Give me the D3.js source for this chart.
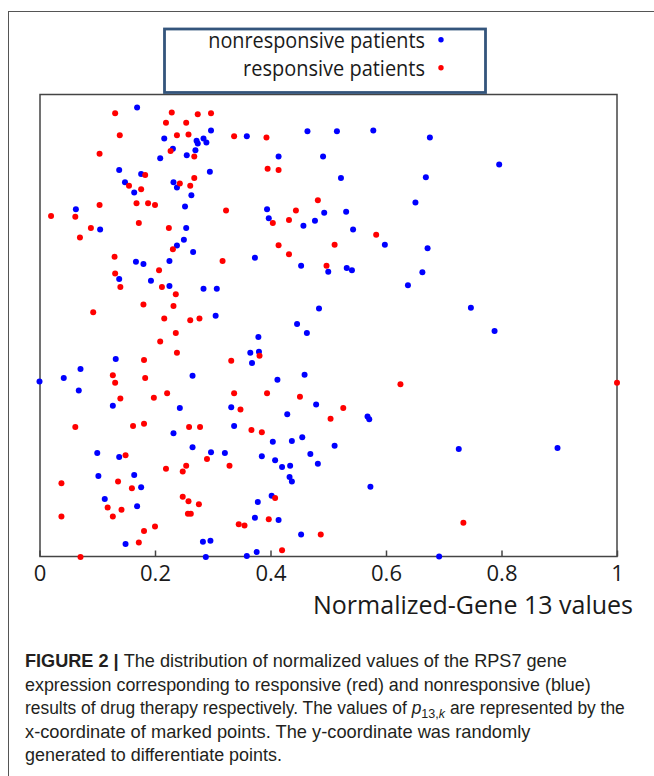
<!DOCTYPE html>
<html>
<head>
<meta charset="utf-8">
<script src="https://cdn.jsdelivr.net/npm/d3@7"></script>
<style>
  html, body { margin: 0; padding: 0; background: #fff; }
  svg { display: block; }
</style>
</head>
<body>
<svg id="chart" width="654" height="776"></svg>
<script>
// ---------- data ----------
const xTicks = [0, 0.2, 0.4, 0.6, 0.8, 1];
const xTickLabels = ["0", "0.2", "0.4", "0.6", "0.8", "1"];
const xTitle = "Normalized-Gene 13 values";
const legendLabels = ["nonresponsive patients", "responsive patients"];

// nonresponsive patients (blue): [normalized value, random y]
const nonresponsive = [
  [0.169,0.999],[0.297,0.948],[0.216,0.930],[0.272,0.925],[0.284,0.930],[0.289,0.921],[0.274,0.919],[0.359,0.935],
  [0.231,0.907],[0.270,0.904],[0.255,0.893],[0.209,0.886],[0.138,0.860],[0.176,0.851],[0.295,0.856],[0.148,0.833],
  [0.232,0.833],[0.238,0.821],[0.164,0.810],[0.263,0.804],[0.252,0.779],[0.063,0.773],[0.105,0.728],[0.254,0.731],
  [0.250,0.705],[0.238,0.692],[0.266,0.678],
  [0.464,0.946],[0.515,0.946],[0.578,0.948],[0.676,0.932],[0.414,0.890],[0.491,0.890],[0.796,0.872],[0.522,0.842],
  [0.669,0.844],[0.651,0.788],[0.394,0.773],[0.397,0.753],[0.457,0.736],[0.477,0.747],[0.493,0.765],[0.531,0.767],
  [0.543,0.728],[0.598,0.694],[0.672,0.686],
  [0.167,0.656],[0.180,0.651],[0.225,0.658],[0.138,0.618],[0.193,0.614],[0.225,0.602],[0.284,0.596],[0.307,0.596],
  [0.305,0.536],[0.132,0.440],[0.071,0.418],[0.042,0.398],[0.000,0.390],[0.068,0.370],[0.265,0.403],[0.365,0.454],
  [0.368,0.431],[0.127,0.336],[0.243,0.331],[0.332,0.333],
  [0.373,0.665],[0.453,0.647],[0.500,0.634],[0.532,0.642],[0.541,0.637],[0.663,0.633],[0.638,0.604],[0.484,0.552],
  [0.747,0.554],[0.446,0.518],[0.463,0.498],[0.788,0.502],[0.379,0.489],[0.380,0.456],[0.459,0.405],[0.412,0.394],
  [0.479,0.339],
  [0.337,0.291],[0.232,0.275],[0.100,0.231],[0.138,0.222],[0.265,0.244],[0.297,0.233],[0.321,0.231],[0.102,0.180],
  [0.164,0.182],[0.176,0.155],[0.113,0.129],[0.169,0.113],[0.149,0.029],[0.283,0.034],[0.296,0.036],[0.288,0.000],
  [0.359,0.002],
  [0.429,0.317],[0.568,0.312],[0.571,0.306],[0.404,0.256],[0.437,0.258],[0.455,0.266],[0.511,0.247],[0.726,0.240],
  [0.897,0.242],[0.385,0.224],[0.408,0.215],[0.420,0.200],[0.434,0.203],[0.469,0.229],[0.482,0.207],[0.433,0.178],
  [0.437,0.168],[0.573,0.156],[0.402,0.136],[0.378,0.122],[0.373,0.087],[0.414,0.082],[0.453,0.050],[0.376,0.011],
  [0.692,0.001]
];

// responsive patients (red): [normalized value, random y]
const responsive = [
  [0.131,0.986],[0.229,0.988],[0.274,0.984],[0.297,0.986],[0.219,0.965],[0.254,0.965],[0.139,0.937],[0.238,0.937],
  [0.258,0.939],[0.337,0.935],[0.104,0.896],[0.227,0.902],[0.268,0.890],[0.183,0.849],[0.268,0.842],[0.155,0.825],
  [0.243,0.830],[0.261,0.825],[0.176,0.817],[0.168,0.786],[0.188,0.786],[0.200,0.782],[0.104,0.782],[0.323,0.770],
  [0.020,0.758],[0.062,0.756],[0.172,0.742],[0.089,0.731],[0.224,0.731],[0.070,0.710],[0.231,0.684],
  [0.393,0.932],[0.395,0.863],[0.414,0.860],[0.482,0.793],[0.444,0.770],[0.432,0.749],[0.404,0.742],[0.414,0.693],
  [0.511,0.694],[0.583,0.716],
  [0.130,0.667],[0.317,0.658],[0.131,0.630],[0.207,0.637],[0.140,0.600],[0.212,0.600],[0.236,0.584],[0.180,0.561],
  [0.232,0.558],[0.093,0.544],[0.216,0.530],[0.261,0.526],[0.277,0.530],[0.236,0.498],[0.209,0.479],[0.238,0.454],
  [0.181,0.438],[0.332,0.436],[0.127,0.404],[0.131,0.387],[0.183,0.398],[0.140,0.352],[0.198,0.354],[0.221,0.364],
  [0.337,0.364],[0.348,0.328],
  [0.432,0.673],[0.497,0.647],[0.381,0.447],[0.394,0.364],[0.451,0.356],[0.526,0.331],[0.625,0.384],[1.000,0.387],
  [0.062,0.289],[0.162,0.291],[0.181,0.296],[0.259,0.289],[0.278,0.289],[0.149,0.226],[0.367,0.282],[0.290,0.218],
  [0.254,0.203],[0.219,0.196],[0.248,0.190],[0.329,0.203],[0.038,0.164],[0.136,0.168],[0.160,0.153],[0.248,0.134],
  [0.258,0.124],[0.276,0.117],[0.118,0.110],[0.142,0.105],[0.127,0.090],[0.038,0.090],[0.257,0.096],[0.262,0.096],
  [0.345,0.073],[0.355,0.070],[0.181,0.058],[0.200,0.068],[0.172,0.032],[0.071,0.000],
  [0.504,0.307],[0.385,0.277],[0.408,0.131],[0.397,0.084],[0.487,0.050],[0.420,0.015],[0.734,0.076]
];

const captionLines = [
  [{t:"FIGURE 2 | ", b:true}, {t:"The distribution of normalized values of the RPS7 gene"}],
  [{t:"expression corresponding to responsive (red) and nonresponsive (blue)"}],
  [{t:"results of drug therapy respectively. The values of "}, {t:"p", i:true}, {t:"13,", sub:true}, {t:"k", sub:true, i:true}, {t:" are represented by the"}],
  [{t:"x-coordinate of marked points. The y-coordinate was randomly"}],
  [{t:"generated to differentiate points."}]
];

// ---------- layout ----------
const svg = d3.select("#chart");
const plot = {left: 40, top: 94.5, right: 617, bottom: 556.5};
const x = d3.scaleLinear().domain([0, 1]).range([39.5, 617]);
const y = d3.scaleLinear().domain([0, 1]).range([557, 107]);
const BLUE = "#0000ff", RED = "#ff0000";

// figure frame (top & left edges)
svg.append("line").attr("x1", 8.5).attr("x2", 654).attr("y1", 11.5).attr("y2", 11.5)
  .attr("stroke", "#555").attr("stroke-width", 1);
svg.append("line").attr("x1", 8.5).attr("x2", 8.5).attr("y1", 11).attr("y2", 776)
  .attr("stroke", "#555").attr("stroke-width", 1);

// plot box
svg.append("rect")
  .attr("x", plot.left).attr("y", plot.top)
  .attr("width", plot.right - plot.left).attr("height", plot.bottom - plot.top)
  .attr("fill", "#fff").attr("stroke", "#444").attr("stroke-width", 1.5);

// x axis
const axis = d3.axisBottom(x).tickValues(xTicks)
  .tickFormat((d, i) => xTickLabels[i])
  .tickSizeInner(-6).tickSizeOuter(0).tickPadding(9);
const gx = svg.append("g").attr("transform", `translate(0,${plot.bottom})`).call(axis);
gx.select(".domain").remove();
gx.selectAll(".tick line").attr("stroke", "#444").attr("stroke-width", 1.5);
gx.selectAll(".tick text")
  .attr("font-family", "'Open Sans', sans-serif").attr("font-size", 22)
  .attr("fill", "#1a1a1a");

// points
svg.append("g").selectAll("circle").data(nonresponsive).join("circle")
  .attr("cx", d => x(d[0])).attr("cy", d => y(d[1])).attr("r", 3).attr("fill", BLUE);
svg.append("g").selectAll("circle").data(responsive).join("circle")
  .attr("cx", d => x(d[0])).attr("cy", d => y(d[1])).attr("r", 3).attr("fill", RED);

// helper: text fitted horizontally
function fitText(g, target) {
  const t = g.select("text");
  const w = t.node().getComputedTextLength();
  const tr = g.attr("transform");
  g.attr("transform", tr + ` scale(${target / w},1)`);
}

// axis title
{
  const g = svg.append("g").attr("transform", "translate(633,613.5)");
  g.append("text").attr("text-anchor", "end")
    .attr("font-family", "'Open Sans', sans-serif").attr("font-size", 25)
    .attr("fill", "#1a1a1a").text(xTitle);
  fitText(g, 320);
}

// legend
svg.append("rect").attr("x", 164.5).attr("y", 29).attr("width", 321).attr("height", 63.5)
  .attr("fill", "#fff").attr("stroke", "#34557c").attr("stroke-width", 2.8);
const legendColors = [BLUE, RED];
const legendY = [48, 75.5];
const legendDotY = [39.7, 67.7];
const legendW = [217, 182];
legendLabels.forEach((lab, i) => {
  const g = svg.append("g").attr("transform", `translate(425,${legendY[i]})`);
  g.append("text").attr("text-anchor", "end")
    .attr("font-family", "'Open Sans', sans-serif").attr("font-size", 21)
    .attr("fill", "#1a1a1a").text(lab);
  fitText(g, legendW[i]);
  svg.append("circle").attr("cx", 441).attr("cy", legendDotY[i]).attr("r", 2.7)
    .attr("fill", legendColors[i]);
});

// caption
const capBase = [667, 690.5, 714, 737.5, 761];
const capW = [542.5, 566, 600, 506, 257];
captionLines.forEach((parts, i) => {
  const g = svg.append("g").attr("transform", `translate(25,${capBase[i]})`);
  const t = g.append("text")
    .attr("font-family", "'Liberation Sans Narrow', 'Liberation Sans', Arial, sans-serif")
    .attr("font-size", 18).attr("fill", "#231f20");
  const nodes = [];
  parts.forEach(p => {
    const s = t.append("tspan").text(p.t);
    if (p.b) s.attr("font-weight", "bold");
    if (p.i) s.attr("font-style", "italic");
    if (p.sub) s.attr("font-size", 13);
    nodes.push(s);
  });
  parts.forEach((p, j) => {
    const prevSub = j > 0 && parts[j - 1].sub;
    if (p.sub && !prevSub) nodes[j].attr("dy", 4);
    if (!p.sub && prevSub) nodes[j].attr("dy", -4);
  });
  fitText(g, capW[i]);
});
</script>
</body>
</html>
